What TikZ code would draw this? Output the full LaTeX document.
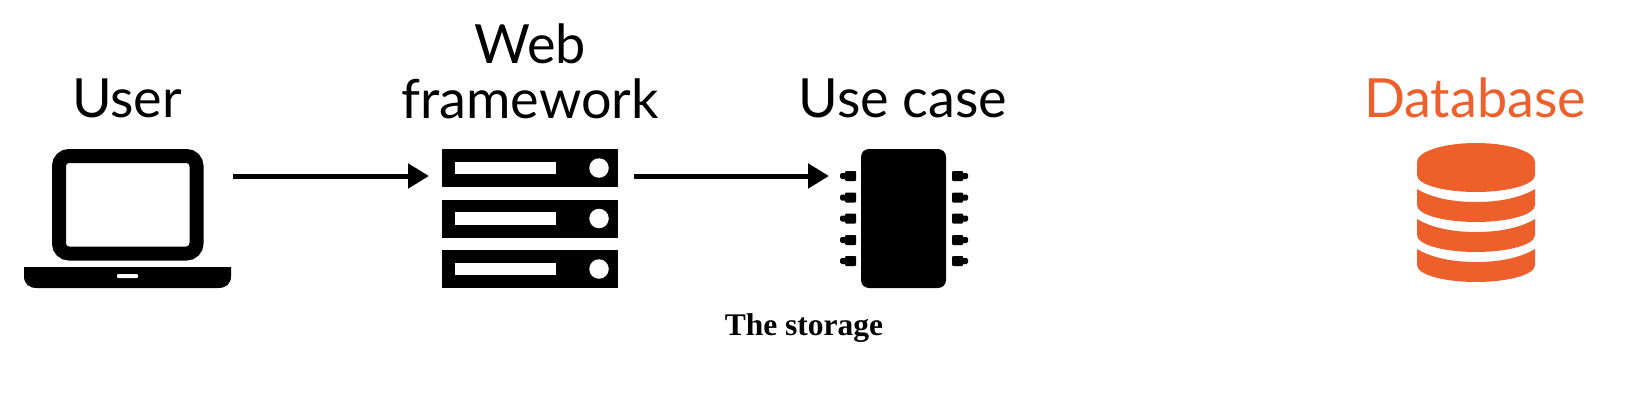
\documentclass[tikz,border=0pt]{standalone}
\usepackage{fontspec}
\setmainfont{Lato}
\newfontfamily\captionserif{Liberation Serif}
\usetikzlibrary{arrows.meta}
\definecolor{archInk}{HTML}{000000}
\definecolor{archOrange}{HTML}{ED602B}
\tikzset{
  arch label/.style={font=\fontsize{54}{55}\selectfont, text=archInk, anchor=base, align=center, inner sep=0pt},
  arch caption/.style={font=\captionserif\bfseries\fontsize{31.5}{34}\selectfont, text=archInk, anchor=base, inner sep=0pt},
  arch flow/.style={draw=archInk, line width=5pt, -{Triangle[length=21pt,width=24pt]}},
  arch screen/.style={rectangle, draw=archInk, fill=white, line width=14pt, rounded corners=10pt, minimum width=137.5pt, minimum height=97.5pt, inner sep=0pt, outer sep=0pt},
  arch rack/.style={rectangle, fill=archInk, minimum width=176pt, minimum height=38pt, inner sep=0pt, outer sep=0pt},
  arch slot/.style={rectangle, fill=white, minimum width=101pt, minimum height=12.5pt, inner sep=0pt},
  arch light/.style={circle, fill=white, minimum size=19.5pt, inner sep=0pt},
  arch chip/.style={rectangle, fill=archInk, rounded corners=8pt, minimum width=85pt, minimum height=139pt, inner sep=0pt, outer sep=0pt},
  arch pin west/.pic={
    \fill[archInk, rounded corners=1pt] (-11,-5) rectangle (0,5);
    \fill[archInk, rounded corners=1.5pt] (-16,-3) rectangle (-9,3);
  },
  arch pin east/.pic={
    \fill[archInk, rounded corners=1pt] (0,-5) rectangle (11,5);
    \fill[archInk, rounded corners=1.5pt] (9,-3) rectangle (16,3);
  },
}
\begin{document}
\begin{tikzpicture}[x=1pt,y=-1pt]
  \useasboundingbox (0,0) rectangle (1628,418);
  \coordinate (flowline) at (0,176);
  % labels
  \node[arch label] (userLabel) at (127,117) {User};
  \node[arch label] (webLabel) at (530,118) {Web\\framework};
  \node[arch label] (caseLabel) at (903,117) {Use case};
  \node[arch label, text=archOrange] (dbLabel) at (1475,117) {Database};
  \node[arch caption] (storageLabel) at (804,335) {The storage};
  % laptop
  \node[arch screen] (laptopScreen) at (127.75,204.75) {};
  \fill[archInk] (24,267) -- (231,267) -- (231,276) .. controls (231,284) and (226,288) .. (218,288)
    -- (37,288) .. controls (29,288) and (24,284) .. (24,276) -- cycle;
  \node[rectangle, fill=white, minimum width=21pt, minimum height=4pt, rounded corners=1pt, inner sep=0pt] (laptopNotch) at (127.5,276) {};
  % rack
  \node[arch rack] (rackTop) at (530,168) {};
  \node[arch rack] (rackMid) at (530,218.5) {};
  \node[arch rack] (rackLow) at (530,269) {};
  \node[arch slot] (slotTop) at (505.5,168) {};
  \node[arch slot] (slotMid) at (505.5,218.5) {};
  \node[arch slot] (slotLow) at (505.5,269) {};
  \node[arch light] (lightTop) at (599,168) {};
  \node[arch light] (lightMid) at (599,218.5) {};
  \node[arch light] (lightLow) at (599,269) {};
  % chip
  \node[arch chip] (chip) at (903.5,218.5) {};
  \pic at (856,176) {arch pin west};
  \pic at (856,197.5) {arch pin west};
  \pic at (856,218.5) {arch pin west};
  \pic at (856,240) {arch pin west};
  \pic at (856,261) {arch pin west};
  \pic at (952,176) {arch pin east};
  \pic at (952,197.5) {arch pin east};
  \pic at (952,218.5) {arch pin east};
  \pic at (952,240) {arch pin east};
  \pic at (952,261) {arch pin east};
  % database
  \fill[archOrange] (1417,162) .. controls (1417,151) and (1445,143) .. (1476,143)
    .. controls (1507,143) and (1535,151) .. (1535,162) -- (1535,175)
    .. controls (1535,185) and (1507,192) .. (1476,192)
    .. controls (1445,192) and (1417,185) .. (1417,175) -- cycle;
  \fill[archOrange] (1417,189) .. controls (1432,198) and (1453,202) .. (1476,202)
    .. controls (1499,202) and (1520,198) .. (1535,189) -- (1535,205)
    .. controls (1535,215) and (1507,222) .. (1476,222)
    .. controls (1445,222) and (1417,215) .. (1417,205) -- cycle;
  \fill[archOrange] (1417,219) .. controls (1432,228) and (1453,232) .. (1476,232)
    .. controls (1499,232) and (1520,228) .. (1535,219) -- (1535,235)
    .. controls (1535,245) and (1507,252) .. (1476,252)
    .. controls (1445,252) and (1417,245) .. (1417,235) -- cycle;
  \fill[archOrange] (1417,249) .. controls (1432,258) and (1453,262) .. (1476,262)
    .. controls (1499,262) and (1520,258) .. (1535,249) -- (1535,265)
    .. controls (1535,275) and (1507,282) .. (1476,282)
    .. controls (1445,282) and (1417,275) .. (1417,265) -- cycle;
  % arrows
  \draw[arch flow, shorten <=36.5pt, shorten >=13pt] (laptopScreen.east |- flowline) -- (rackTop.west |- flowline);
  \draw[arch flow, shorten <=16pt, shorten >=32pt] (rackTop.east |- flowline) -- (chip.west |- flowline);
\end{tikzpicture}
\end{document}
